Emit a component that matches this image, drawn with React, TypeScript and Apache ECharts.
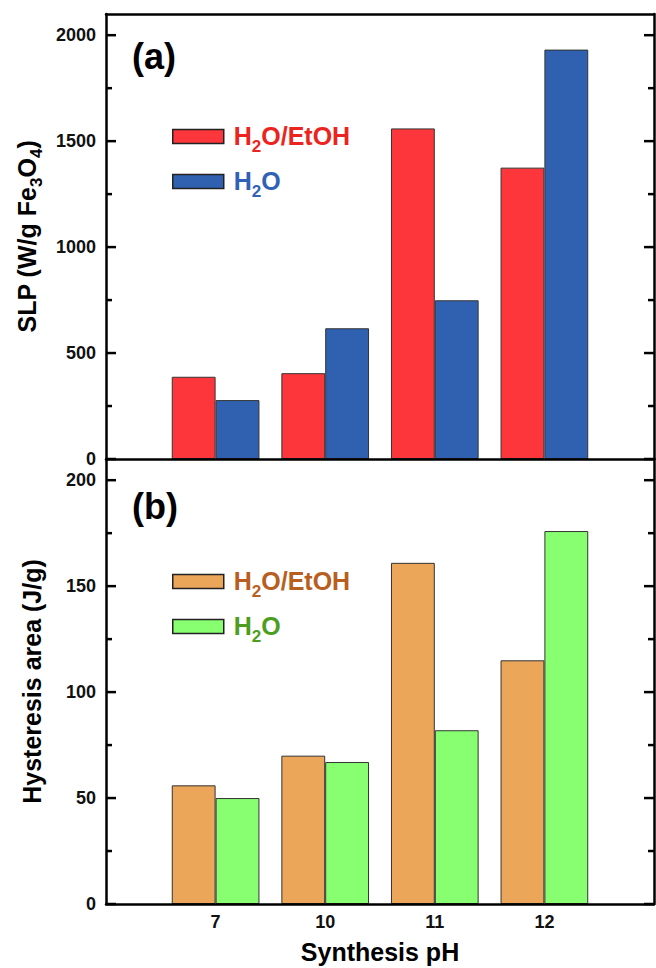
import React, { useEffect, useRef } from 'react';
import * as echarts from 'echarts';

// ---- data ----
const categories = ['7', '10', '11', '12'];
const slpEtOH = [388, 405, 1560, 1375];
const slpWater = [278, 617, 749, 1932];
const hysEtOH = [56, 70, 161, 115];
const hysWater = [50, 67, 82, 176];

const slpMax = 2100;
const slpMajor = 500;
const hysMax = 210;
const hysMajor = 50;
const slpMajorTicks = [0, 500, 1000, 1500, 2000];
const slpMinorTicks = [250, 750, 1250, 1750];
const hysMajorTicks = [0, 50, 100, 150, 200];
const hysMinorTicks = [25, 75, 125, 175];

// ---- styles / layout ----
const FONT = '"Liberation Sans", Arial, Helvetica, sans-serif';
const RED = '#fd363b';
const BLUE = '#3061b0';
const ORANGE = '#eca65a';
const GREEN = '#88ff71';
const RED_T = '#ec2420';
const BLUE_T = '#2f62b6';
const ORANGE_T = '#b85e1e';
const GREEN_T = '#4c9e20';

const PLOT_LEFT = 106;
const PLOT_WIDTH = 548;
const PLOT_HEIGHT = 445;
const PANEL_TOPS = [14, 459];
const MAJOR_LEN = 10;
const MINOR_LEN = 6;

const axisData = ['', ...categories, ''];
const pad = (arr: number[]) => [null, ...arr, null];

function subRich(color: string, size: number, subSize: number, drop: number) {
  return {
    m: { color, fontSize: size, fontWeight: 'bold', fontFamily: FONT, lineHeight: size + 2, verticalAlign: 'top' },
    s: {
      color,
      fontSize: subSize,
      fontWeight: 'bold',
      fontFamily: FONT,
      lineHeight: subSize,
      verticalAlign: 'top',
      padding: [drop, 0, 0, 0],
    },
  };
}

function prefixRich(prefix: string, r: any) {
  const out: any = {};
  Object.keys(r).forEach((k) => (out[prefix + k] = r[k]));
  return out;
}

const frameLine = { color: '#000', width: 2.5 };

const legendInfo: Record<string, { key: string; rest: string }> = {
  'SLP H2O/EtOH': { key: 'r', rest: 'O/EtOH' },
  'SLP H2O': { key: 'b', rest: 'O' },
  'HYS H2O/EtOH': { key: 'o', rest: 'O/EtOH' },
  'HYS H2O': { key: 'g', rest: 'O' },
};

const legendRich = {
  ...prefixRich('r', subRich(RED_T, 25, 17, 15)),
  ...prefixRich('b', subRich(BLUE_T, 25, 17, 15)),
  ...prefixRich('o', subRich(ORANGE_T, 25, 17, 15)),
  ...prefixRich('g', subRich(GREEN_T, 25, 17, 15)),
};

const legendFormatter = (name: string) => {
  const info = legendInfo[name];
  const k = info.key;
  return `{${k}m|H}{${k}s|2}{${k}m|${info.rest}}`;
};

const nameRich = subRich('#000', 25, 17, 14);

// inward ticks on both the left and right frame, placed through the y scale
const tickRenderItem = (params: any, api: any) => {
  const cs = params.coordSys;
  const y = api.coord([0, api.value(1)])[1];
  const len = api.value(2);
  const style = { stroke: '#000', lineWidth: 2.5 };
  return {
    type: 'group',
    children: [
      { type: 'line', shape: { x1: cs.x, y1: y, x2: cs.x + len, y2: y }, style },
      { type: 'line', shape: { x1: cs.x + cs.width - len, y1: y, x2: cs.x + cs.width, y2: y }, style },
    ],
  };
};

const tickData = (major: number[], minor: number[]) => [
  ...major.map((v) => [0, v, MAJOR_LEN]),
  ...minor.map((v) => [0, v, MINOR_LEN]),
];

export default function App() {
  const ref = useRef<HTMLDivElement>(null);

  useEffect(() => {
    document.body.style.margin = '0';
    if (!ref.current) return;
    const chart = echarts.init(ref.current, undefined, { renderer: 'svg' });

    const barBorder = { borderColor: '#333', borderWidth: 1 };

    const gridBase = { show: false, outerBoundsMode: 'none', containLabel: false };
    const grids: any[] = [
      { ...gridBase, left: PLOT_LEFT, top: PANEL_TOPS[0], width: PLOT_WIDTH, height: PLOT_HEIGHT },
      { ...gridBase, left: PLOT_LEFT, top: PANEL_TOPS[1], width: PLOT_WIDTH, height: PLOT_HEIGHT },
    ];

    const catAxisBase = {
      type: 'category',
      data: axisData,
      boundaryGap: false,
      axisTick: { show: false },
      splitLine: { show: false },
      z: 3,
    };

    const xAxes: any[] = [
      {
        ...catAxisBase,
        gridIndex: 0,
        position: 'bottom',
        axisLine: { show: true, onZero: false, lineStyle: frameLine },
        axisLabel: { show: false },
      },
      {
        ...catAxisBase,
        gridIndex: 1,
        position: 'bottom',
        axisLine: { show: true, onZero: false, lineStyle: frameLine },
        axisLabel: {
          show: true,
          interval: 0,
          margin: 9,
          fontSize: 18,
          fontWeight: 'bold',
          fontFamily: FONT,
          color: '#111',
        },
        name: 'Synthesis pH',
        nameLocation: 'middle',
        nameGap: 35,
        nameTextStyle: { fontSize: 25, fontWeight: 'bold', fontFamily: FONT, color: '#000' },
      },
      {
        ...catAxisBase,
        gridIndex: 0,
        position: 'top',
        axisLine: { show: true, onZero: false, lineStyle: frameLine },
        axisLabel: { show: false },
      },
    ];

    const mainY = (gridIndex: number, max: number, major: number, name: string) => [
      {
        gridIndex,
        type: 'value',
        min: 0,
        max,
        interval: major,
        position: 'left',
        z: 3,
        splitLine: { show: false },
        axisLine: { show: true, onZero: false, lineStyle: frameLine },
        axisTick: { show: false },
        axisLabel: {
          show: true,
          margin: 10,
          fontSize: 18,
          fontWeight: 'bold',
          fontFamily: FONT,
          color: '#111',
          showMaxLabel: false,
          formatter: (v: number) => String(v),
        },
        name,
        nameLocation: 'middle',
        nameGap: 60,
        nameTextStyle: { rich: nameRich },
      },
      {
        gridIndex,
        type: 'value',
        min: 0,
        max,
        interval: major,
        position: 'right',
        z: 3,
        splitLine: { show: false },
        axisLine: { show: true, onZero: false, lineStyle: frameLine },
        axisTick: { show: false },
        axisLabel: { show: false },
      },
    ];

    const yAxes: any[] = [
      ...mainY(0, slpMax, slpMajor, '{m|SLP (W/g Fe}{s|3}{m|O}{s|4}{m|)}'),
      ...mainY(1, hysMax, hysMajor, '{m|Hysteresis area (J/g)}'),
    ];

    const option: any = {
      animation: false,
      backgroundColor: '#fff',
      grid: grids,
      xAxis: xAxes,
      yAxis: yAxes,
      legend: [
        {
          data: ['SLP H2O/EtOH', 'SLP H2O'],
          orient: 'vertical',
          left: 172,
          top: 123,
          padding: 0,
          itemWidth: 51,
          itemHeight: 14,
          itemGap: 13,
          icon: 'rect',
          selectedMode: false,
          itemStyle: { borderColor: '#222', borderWidth: 1.5 },
          formatter: legendFormatter,
          textStyle: { rich: legendRich, padding: [0, 0, 0, 5] },
        },
        {
          data: ['HYS H2O/EtOH', 'HYS H2O'],
          orient: 'vertical',
          left: 172,
          top: 568,
          padding: 0,
          itemWidth: 51,
          itemHeight: 14,
          itemGap: 13,
          icon: 'rect',
          selectedMode: false,
          itemStyle: { borderColor: '#222', borderWidth: 1.5 },
          formatter: legendFormatter,
          textStyle: { rich: legendRich, padding: [0, 0, 0, 5] },
        },
      ],
      graphic: [
        {
          type: 'text',
          x: 132,
          y: 56,
          style: { text: '(a)', font: `bold 36px ${FONT}`, fill: '#000', verticalAlign: 'middle', align: 'left' },
          z: 10,
        },
        {
          type: 'text',
          x: 132,
          y: 506,
          style: { text: '(b)', font: `bold 36px ${FONT}`, fill: '#000', verticalAlign: 'middle', align: 'left' },
          z: 10,
        },
      ],
      series: [
        {
          type: 'bar',
          name: 'SLP H2O/EtOH',
          xAxisIndex: 0,
          yAxisIndex: 0,
          data: pad(slpEtOH),
          barWidth: '40%',
          barGap: '0%',
          itemStyle: { color: RED, ...barBorder },
        },
        {
          type: 'bar',
          name: 'SLP H2O',
          xAxisIndex: 0,
          yAxisIndex: 0,
          data: pad(slpWater),
          barWidth: '40%',
          barGap: '0%',
          itemStyle: { color: BLUE, ...barBorder },
        },
        {
          type: 'bar',
          name: 'HYS H2O/EtOH',
          xAxisIndex: 1,
          yAxisIndex: 2,
          data: pad(hysEtOH),
          barWidth: '40%',
          barGap: '0%',
          itemStyle: { color: ORANGE, ...barBorder },
        },
        {
          type: 'bar',
          name: 'HYS H2O',
          xAxisIndex: 1,
          yAxisIndex: 2,
          data: pad(hysWater),
          barWidth: '40%',
          barGap: '0%',
          itemStyle: { color: GREEN, ...barBorder },
        },
        {
          type: 'custom',
          name: 'slp-ticks',
          coordinateSystem: 'cartesian2d',
          xAxisIndex: 0,
          yAxisIndex: 0,
          silent: true,
          z: 5,
          encode: { x: 0, y: 1 },
          data: tickData(slpMajorTicks, slpMinorTicks),
          renderItem: tickRenderItem,
        },
        {
          type: 'custom',
          name: 'hys-ticks',
          coordinateSystem: 'cartesian2d',
          xAxisIndex: 1,
          yAxisIndex: 2,
          silent: true,
          z: 5,
          encode: { x: 0, y: 1 },
          data: tickData(hysMajorTicks, hysMinorTicks),
          renderItem: tickRenderItem,
        },
      ],
    };

    chart.setOption(option);
    return () => chart.dispose();
  }, []);

  return <div ref={ref} style={{ width: 656, height: 968 }} />;
}
